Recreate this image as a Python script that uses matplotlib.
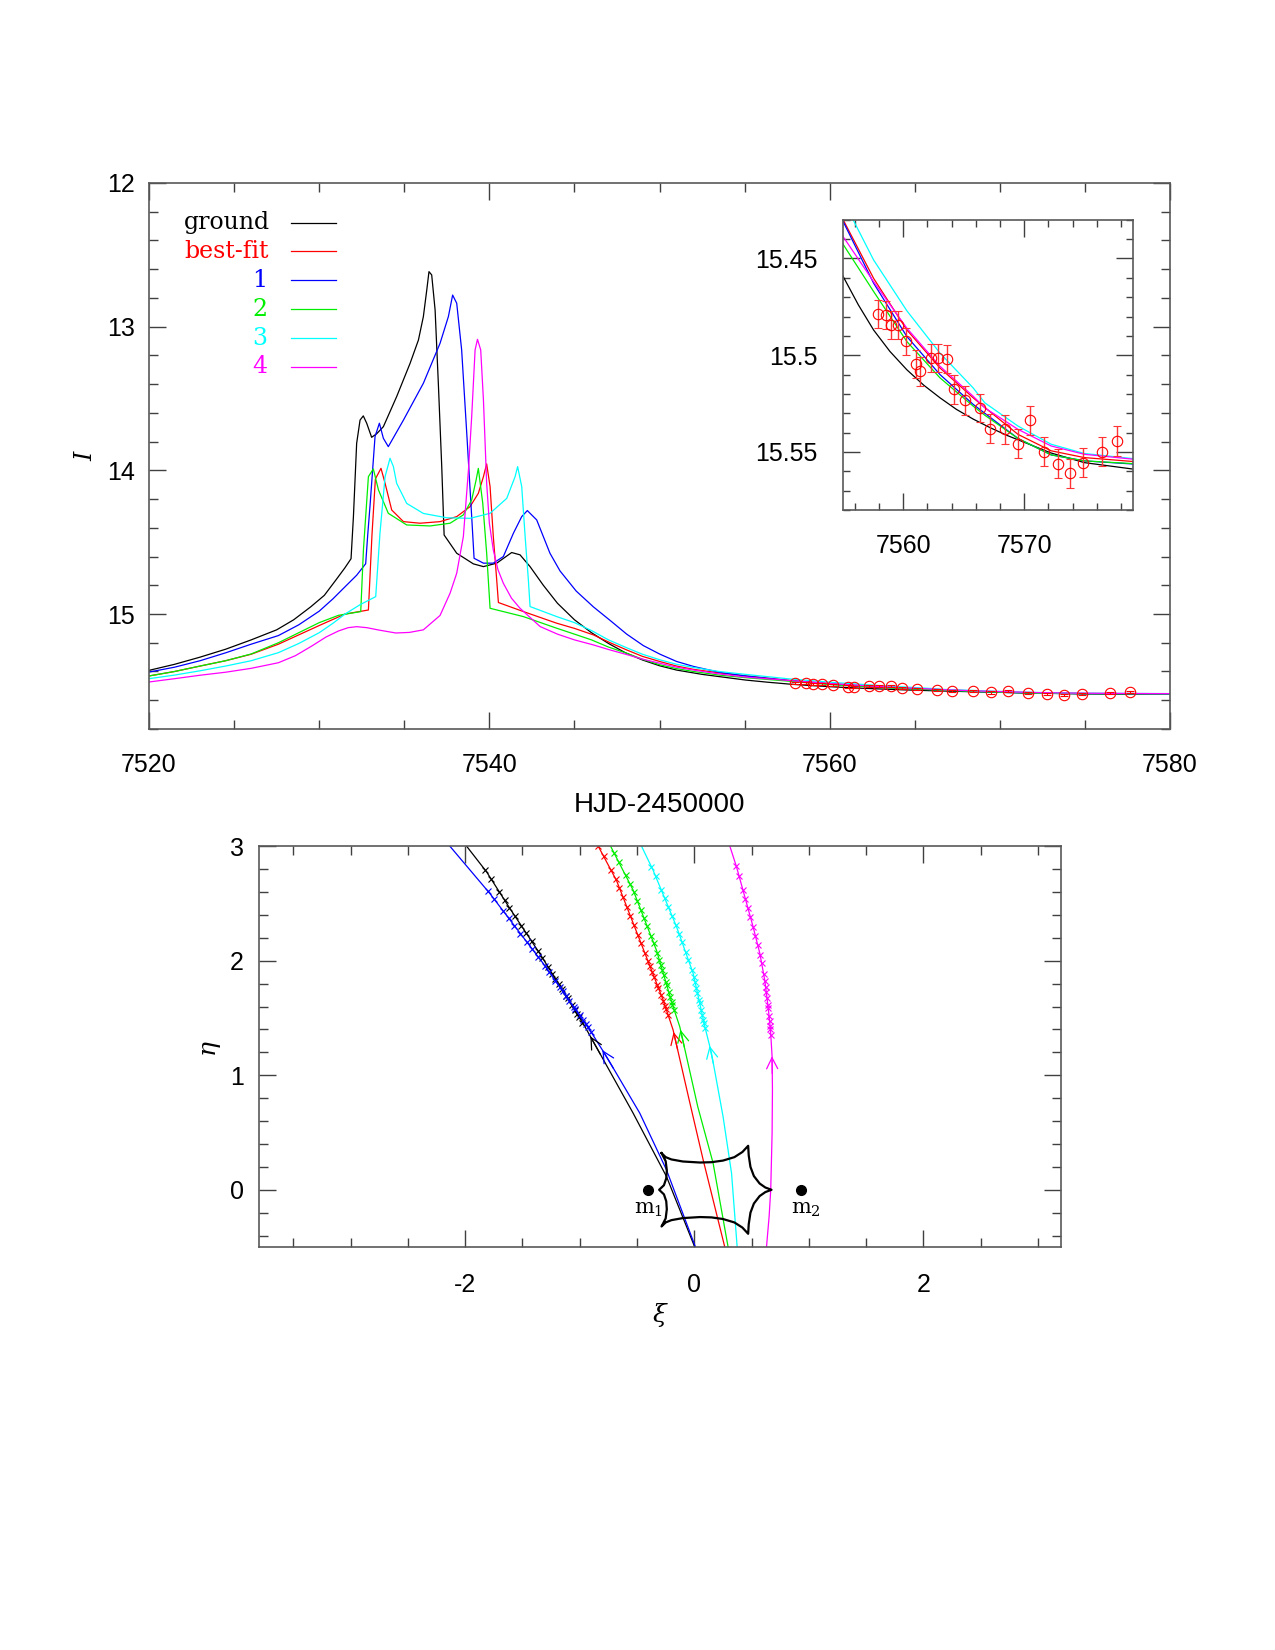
import numpy as np
import matplotlib.pyplot as plt
from matplotlib.ticker import MultipleLocator, FormatStrFormatter

plt.rcParams['font.family'] = ['Liberation Sans', 'DejaVu Sans']
plt.rcParams['axes.unicode_minus'] = False
plt.rcParams['mathtext.fontset'] = 'dejavuserif'

# ---------------- light curves (HJD-2450000, I mag) ----------------
black_t = [7520.0, 7521.5, 7523.0, 7524.5, 7526.0, 7527.5, 7528.5, 7529.5, 7530.3, 7531.0,
           7531.5, 7531.87, 7532.01, 7532.2, 7532.4, 7532.59, 7532.79, 7533.08, 7533.38, 7533.77,
           7534.55, 7535.34, 7535.83, 7536.12, 7536.32, 7536.45, 7536.61, 7536.81, 7537.0, 7537.2,
           7537.34, 7538.08, 7539.06, 7539.65, 7540.43, 7541.31, 7541.8, 7542.39, 7543.17, 7544.0,
           7545.0, 7546.0, 7547.0, 7548.0, 7549.0, 7550.0, 7551.0, 7552.5, 7555.05, 7556.3,
           7557.56, 7558.9, 7560.3, 7561.7, 7563.04, 7564.4, 7565.78, 7567.2, 7568.6, 7570.0,
           7572.2, 7574.96, 7578.93, 7580.0]
black_m = [15.392, 15.35, 15.30, 15.245, 15.18, 15.11, 15.04, 14.95, 14.87, 14.76,
           14.68, 14.615, 14.322, 13.812, 13.65, 13.621, 13.672, 13.77, 13.745, 13.696,
           13.487, 13.255, 13.093, 12.93, 12.745, 12.617, 12.64, 12.884, 13.394, 13.974,
           14.45, 14.577, 14.651, 14.67, 14.646, 14.572, 14.588, 14.67, 14.80, 14.925,
           15.04, 15.13, 15.205, 15.27, 15.32, 15.36, 15.39, 15.42, 15.4594, 15.474,
           15.487, 15.498, 15.5075, 15.5155, 15.522, 15.528, 15.533, 15.5375, 15.5415, 15.545,
           15.5505, 15.5555, 15.5588, 15.5592]

red_t = [7520.0, 7521.5, 7523.0, 7524.5, 7526.0, 7527.6, 7528.8, 7530.0, 7531.52, 7532.89,
         7533.1, 7533.3, 7533.63, 7533.87, 7534.26, 7534.95, 7535.93, 7537.1, 7538.08, 7538.86,
         7539.35, 7539.65, 7539.84, 7540.04, 7540.23, 7540.43, 7540.53, 7542.0, 7543.96, 7545.0,
         7546.11, 7547.1, 7548.07, 7549.0, 7550.03, 7551.0, 7552.0, 7553.5, 7555.05, 7557.56,
         7560.3, 7563.04, 7565.78, 7566.74, 7569.48, 7572.22, 7574.96, 7578.93, 7580.0]
red_m = [15.431, 15.4, 15.362, 15.325, 15.28, 15.21, 15.145, 15.08, 15.0, 14.972,
         14.45, 14.06, 13.986, 14.09, 14.276, 14.357, 14.368, 14.357, 14.322, 14.253,
         14.16, 14.044, 13.955, 14.113, 14.46, 14.762, 14.92, 14.983, 15.064, 15.1,
         15.145, 15.2, 15.25, 15.295, 15.331, 15.362, 15.385, 15.41, 15.4301, 15.4603,
         15.4869, 15.5066, 15.522, 15.527, 15.5409, 15.5494, 15.5529, 15.5549, 15.5551]

blue_t = [7520.0, 7521.5, 7523.0, 7524.5, 7526.0, 7527.6, 7528.8, 7530.0, 7530.8, 7531.52,
          7532.2, 7532.73, 7532.85, 7532.99, 7533.28, 7533.535, 7533.77, 7534.06, 7534.95, 7536.12,
          7537.1, 7537.59, 7537.84, 7538.08, 7538.37, 7538.67, 7538.96, 7539.1, 7539.65, 7540.23,
          7540.82, 7541.41, 7541.9, 7542.23, 7542.78, 7543.56, 7544.15, 7545.1, 7546.11, 7547.1,
          7548.07, 7549.05, 7550.03, 7551.0, 7552.0, 7553.5, 7555.05, 7557.56, 7560.3, 7563.04,
          7565.78, 7566.74, 7569.48, 7572.22, 7574.96, 7578.93, 7580.0]
blue_m = [15.404, 15.37, 15.325, 15.27, 15.21, 15.15, 15.075, 14.98, 14.895, 14.81,
          14.73, 14.65, 14.45, 14.24, 13.765, 13.672, 13.777, 13.835, 13.65, 13.394,
          13.116, 12.93, 12.78, 12.837, 13.162, 13.742, 14.322, 14.612, 14.646, 14.646,
          14.6, 14.438, 14.322, 14.28, 14.345, 14.577, 14.70, 14.84, 14.95, 15.045,
          15.14, 15.22, 15.28, 15.33, 15.365, 15.405, 15.431, 15.4628, 15.4903, 15.51,
          15.5254, 15.53, 15.543, 15.5515, 15.5546, 15.5562, 15.5565]

green_t = [7520.0, 7521.5, 7523.0, 7524.5, 7526.0, 7527.6, 7528.8, 7530.0, 7531.13, 7532.44,
           7532.6, 7532.89, 7533.18, 7533.48, 7534.06, 7535.14, 7536.51, 7537.69, 7538.47, 7538.96,
           7539.22, 7539.35, 7539.61, 7539.84, 7540.04, 7542.0, 7543.96, 7545.0, 7546.0, 7547.0,
           7548.07, 7549.0, 7550.03, 7551.0, 7552.0, 7553.5, 7555.05, 7557.56, 7560.3, 7563.04,
           7565.78, 7566.74, 7569.48, 7572.22, 7574.96, 7578.93, 7580.0]
green_m = [15.431, 15.4, 15.362, 15.325, 15.278, 15.2, 15.13, 15.06, 15.009, 14.983,
           14.55, 14.044, 13.99, 14.136, 14.299, 14.38, 14.387, 14.368, 14.31, 14.206,
           14.067, 13.986, 14.229, 14.577, 14.96, 15.018, 15.099, 15.14, 15.18, 15.23,
           15.273, 15.315, 15.354, 15.38, 15.40, 15.425, 15.4428, 15.4671, 15.4929, 15.5117,
           15.5263, 15.531, 15.543, 15.5515, 15.5546, 15.556, 15.5562]

cyan_t = [7520.0, 7521.5, 7523.0, 7524.5, 7526.0, 7527.6, 7528.8, 7530.0, 7530.8, 7531.52,
          7532.4, 7533.32, 7533.57, 7533.87, 7534.16, 7534.36, 7534.55, 7535.14, 7536.12, 7537.49,
          7538.86, 7540.04, 7541.02, 7541.51, 7541.66, 7541.9, 7542.1, 7542.29, 7542.39, 7543.96,
          7545.0, 7546.0, 7547.0, 7548.07, 7549.0, 7550.03, 7551.0, 7552.0, 7553.5, 7555.05,
          7555.87, 7557.56, 7560.3, 7563.04, 7565.78, 7566.74, 7569.48, 7572.22, 7574.96, 7578.93, 7580.0]
cyan_m = [15.45, 15.425, 15.395, 15.362, 15.325, 15.269, 15.205, 15.13, 15.065, 15.0,
          14.935, 14.879, 14.438, 14.044, 13.916, 13.974, 14.09, 14.23, 14.3, 14.33,
          14.334, 14.299, 14.195, 14.044, 13.974, 14.113, 14.46, 14.762, 14.948, 15.018,
          15.06, 15.115, 15.18, 15.235, 15.28, 15.319, 15.35, 15.372, 15.40, 15.42,
          15.4301, 15.4508, 15.477, 15.4989, 15.5169, 15.5246, 15.5366, 15.546, 15.5508, 15.5534, 15.5537]

magenta_t = [7520.0, 7521.5, 7523.0, 7524.5, 7526.0, 7527.6, 7528.6, 7529.56, 7530.4, 7531.13,
             7531.7, 7532.2, 7532.8, 7533.48, 7534.5, 7535.3, 7536.12, 7537.1, 7537.69, 7538.08,
             7538.47, 7538.77, 7538.96, 7539.16, 7539.3, 7539.49, 7539.65, 7539.84, 7540.0, 7540.23,
             7540.5, 7540.82, 7541.3, 7541.8, 7542.98, 7544.0, 7545.0, 7546.11, 7547.0, 7548.07,
             7549.0, 7550.03, 7551.0, 7552.0, 7553.5, 7555.05, 7557.56, 7560.3, 7563.04, 7565.78,
             7566.74, 7569.48, 7572.22, 7574.96, 7578.93, 7580.0]
magenta_m = [15.473, 15.45, 15.426, 15.405, 15.378, 15.339, 15.29, 15.223, 15.16, 15.118,
             15.095, 15.088, 15.095, 15.111, 15.132, 15.128, 15.11, 15.01, 14.855, 14.716,
             14.461, 13.997, 13.626, 13.162, 13.088, 13.162, 13.51, 14.09, 14.37, 14.554,
             14.69, 14.786, 14.89, 14.96, 15.087, 15.14, 15.18, 15.215, 15.247, 15.282,
             15.314, 15.343, 15.37, 15.39, 15.417, 15.4388, 15.462, 15.486, 15.5057, 15.5212,
             15.5272, 15.5383, 15.5469, 15.5512, 15.5537, 15.554]

# observed points
obs_t = [7557.95, 7558.62, 7559.0, 7559.55, 7560.22, 7561.07, 7561.40, 7562.30, 7562.91, 7563.59,
         7564.22, 7565.10, 7566.33, 7567.2, 7568.44, 7569.48, 7570.49, 7571.67, 7572.77, 7573.78,
         7574.82, 7576.46, 7577.64]
obs_m = [15.4786, 15.4793, 15.4843, 15.4843, 15.4929, 15.5045, 15.5083, 15.5014, 15.5014, 15.5018,
         15.5177, 15.5234, 15.5272, 15.538, 15.5383, 15.5457, 15.5335, 15.5498, 15.556, 15.561,
         15.5556, 15.5498, 15.5443]
obs_e = [0.0071, 0.0071, 0.0073, 0.0073, 0.0072, 0.0073, 0.0075, 0.0072, 0.0074, 0.0073,
         0.0074, 0.0075, 0.0074, 0.0075, 0.0075, 0.0075, 0.0075, 0.0076, 0.0075, 0.0076,
         0.0075, 0.0077, 0.0076]

# ---------------- source trajectories (xi, eta), eta increasing ----------------
black_xi = [0.004, -0.243, -0.534, -0.825, -0.955, -1.115, -1.35, -1.61, -1.813, -1.988]
black_eta = [-0.5, 0.116, 0.669, 1.192, 1.424, 1.685, 2.064, 2.456, 2.775, 3.0]
blue_xi = [0.01, -0.243, -0.476, -0.766, -0.912, -1.319, -1.785, -2.134]
blue_eta = [-0.5, 0.174, 0.669, 1.162, 1.395, 1.976, 2.587, 3.0]
red_xi = [0.266, 0.077, -0.045, -0.185, -0.272, -0.476, -0.679, -0.839]
red_eta = [-0.5, 0.262, 0.785, 1.395, 1.656, 2.18, 2.70, 3.0]
green_xi = [0.295, 0.164, 0.03, -0.127, -0.185, -0.33, -0.534, -0.731]
green_eta = [-0.5, 0.233, 0.726, 1.424, 1.598, 2.09, 2.616, 3.0]
cyan_xi = [0.374, 0.325, 0.251, 0.15, 0.092, -0.01, -0.155, -0.36, -0.461]
cyan_eta = [-0.5, 0.145, 0.639, 1.192, 1.424, 1.889, 2.296, 2.79, 3.0]
magenta_xi = [0.63, 0.653, 0.667, 0.679, 0.682, 0.679, 0.665, 0.644, 0.615, 0.572, 0.513, 0.441, 0.368, 0.31]
magenta_eta = [-0.5, -0.233, 0.0, 0.494, 0.872, 1.162, 1.395, 1.598, 1.83, 2.063, 2.296, 2.557, 2.82, 3.0]

# eta of the first / last observed epoch on each track, and arrow tip eta
mark_eta = {'k': (1.46, 2.79), 'b': (1.38, 2.61), 'r': (1.53, 3.0),
            'g': (1.57, 2.94), 'c': (1.41, 2.82), 'm': (1.35, 2.83)}
arrow_eta = {'k': 1.36, 'b': 1.24, 'r': 1.40, 'g': 1.42, 'c': 1.28, 'm': 1.19}

# caustic and lens positions
caus_xi = [-0.286, -0.25, -0.2, -0.1, 0.05, 0.15, 0.25, 0.35, 0.42, 0.47,
           0.475, 0.49, 0.52, 0.57, 0.62, 0.674, 0.62, 0.57, 0.52, 0.49, 0.475, 0.47,
           0.42, 0.35, 0.25, 0.15, 0.05, -0.1, -0.2, -0.25, -0.286,
           -0.25, -0.24, -0.245, -0.265, -0.307, -0.265, -0.245, -0.24, -0.25, -0.286]
caus_eta = [0.32, 0.285, 0.265, 0.247, 0.238, 0.241, 0.255, 0.285, 0.33, 0.384,
            0.30, 0.2, 0.12, 0.055, 0.02, 0.0, -0.02, -0.055, -0.12, -0.2, -0.30, -0.384,
            -0.33, -0.285, -0.255, -0.241, -0.238, -0.247, -0.265, -0.285, -0.32,
            -0.25, -0.17, -0.1, -0.04, 0.0, 0.04, 0.1, 0.17, 0.25, 0.32]
lens_xi = [-0.403, 0.927]
lens_eta = [0.0, 0.0]
lens_names = ['m$_1$', 'm$_2$']
lens_label_xi = [-0.403, 0.97]

curves = [('k', black_t, black_m, black_xi, black_eta),
          ('r', red_t, red_m, red_xi, red_eta),
          ('b', blue_t, blue_m, blue_xi, blue_eta),
          ('g', green_t, green_m, green_xi, green_eta),
          ('c', cyan_t, cyan_m, cyan_xi, cyan_eta),
          ('m', magenta_t, magenta_m, magenta_xi, magenta_eta)]
cmap = {'k': 'black', 'r': '#ff0000', 'b': '#0000ff', 'g': '#00ee00', 'c': '#00ffff', 'm': '#ff00ff'}
legend_names = ['ground', 'best-fit', '1', '2', '3', '4']
legend_keys = ['k', 'r', 'b', 'g', 'c', 'm']


def frame(ax, major, minor):
    ax.tick_params(which='both', direction='in', top=True, right=True, width=1.0, color='0.25',
                   labelsize=18)
    ax.tick_params(which='major', length=major)
    ax.tick_params(which='minor', length=minor)
    for s in ax.spines.values():
        s.set_linewidth(1.2)
        s.set_color('0.35')


fig = plt.figure(figsize=(12.75, 16.5), dpi=100)

# ---------------- main light curve ----------------
ax = fig.add_axes([0.1169, 0.5582, 0.8008, 0.3309])
for key, t, m, _, _ in curves:
    ax.plot(t, m, color=cmap[key], lw=0.9)
ax.errorbar(obs_t, obs_m, yerr=obs_e, fmt='o', mfc='none', mec='red', ms=7.5, mew=0.8,
            ecolor='red', elinewidth=0.8, capsize=3)
ax.set_xlim(7520, 7580)
ax.set_ylim(15.8, 12)
ax.xaxis.set_major_locator(MultipleLocator(20))
ax.xaxis.set_minor_locator(MultipleLocator(5))
ax.yaxis.set_major_locator(MultipleLocator(1))
ax.yaxis.set_minor_locator(MultipleLocator(0.2))
ax.yaxis.set_major_formatter(FormatStrFormatter('%g'))
frame(ax, 12, 6.5)
ax.tick_params(axis='x', pad=17)
ax.tick_params(axis='y', pad=10)
ax.set_xlabel('HJD-2450000', fontsize=20)
ax.xaxis.set_label_coords(0.5, -0.139)
ax.xaxis.label.set_verticalalignment('center')
ax.set_ylabel('I', fontsize=17, family='DejaVu Serif', style='italic')
ax.yaxis.set_label_coords(-0.062, 0.5)
ax.yaxis.label.set_verticalalignment('center')

# legend drawn as text + short lines
leg_y = [0.927, 0.875, 0.822, 0.769, 0.716, 0.663]
for name, key, y in zip(legend_names, legend_keys, leg_y):
    if len(name) > 1:
        ax.text(0.0343, y, name, transform=ax.transAxes, color=cmap[key], fontsize=17,
                family='DejaVu Serif', ha='left', va='center')
    else:
        ax.text(0.1087, y, name, transform=ax.transAxes, color=cmap[key], fontsize=17,
                family='DejaVu Serif', ha='center', va='center')
    ax.plot([0.139, 0.183], [y, y], transform=ax.transAxes, color=cmap[key], lw=0.9)

# ---------------- inset ----------------
axi = fig.add_axes([0.6609, 0.6909, 0.2279, 0.1759])
for key, t, m, _, _ in curves:
    axi.plot(t, m, color=cmap[key], lw=0.9)
axi.errorbar(obs_t, obs_m, yerr=obs_e, fmt='o', mfc='none', mec='red', ms=7.5, mew=0.8,
             ecolor='#ff3333', elinewidth=1.0, capsize=3)
axi.set_xlim(7555, 7579)
axi.set_ylim(15.58, 15.43)
axi.xaxis.set_major_locator(MultipleLocator(10))
axi.xaxis.set_minor_locator(MultipleLocator(2))
axi.yaxis.set_major_locator(MultipleLocator(0.05))
axi.yaxis.set_minor_locator(MultipleLocator(0.01))
axi.yaxis.set_major_formatter(FormatStrFormatter('%g'))
frame(axi, 12, 4.8)
axi.tick_params(axis='x', pad=17)
axi.tick_params(axis='y', pad=18)

# ---------------- source plane ----------------
axb = fig.add_axes([0.2031, 0.2442, 0.629, 0.2430])
obs = np.array(obs_t)
for key, _, _, xi, eta in curves:
    c = cmap[key]
    axb.plot(xi, eta, color=c, lw=0.9)
    e0, e1 = mark_eta[key]
    me = e0 + (obs - obs[0]) / (obs[-1] - obs[0]) * (e1 - e0)
    mx = np.interp(me, eta, xi)
    axb.plot(mx, me, 'x', color=c, ms=5, mew=0.8)
    tip = arrow_eta[key]
    axb.annotate('', xy=(np.interp(tip, eta, xi), tip),
                 xytext=(np.interp(tip - 0.2, eta, xi), tip - 0.2),
                 arrowprops=dict(arrowstyle='->', color=c, lw=0.9, mutation_scale=20))
axb.plot(caus_xi, caus_eta, color='black', lw=1.6)
axb.plot(lens_xi, lens_eta, 'o', color='black', ms=7)
for name, lx in zip(lens_names, lens_label_xi):
    axb.text(lx, -0.175, name, ha='center', va='center', fontsize=15, family='DejaVu Serif')
axb.set_xlim(-3.8, 3.2)
axb.set_ylim(-0.5, 3)
axb.xaxis.set_major_locator(MultipleLocator(2))
axb.xaxis.set_minor_locator(MultipleLocator(0.5))
axb.yaxis.set_major_locator(MultipleLocator(1))
axb.yaxis.set_minor_locator(MultipleLocator(0.2))
frame(axb, 12, 6.5)
axb.tick_params(axis='x', pad=19)
axb.tick_params(axis='y', pad=11)
axb.set_xlabel('ξ', fontsize=18, family='DejaVu Serif', style='italic')
axb.xaxis.set_label_coords(0.5, -0.17)
axb.xaxis.label.set_verticalalignment('center')
axb.set_ylabel('η', fontsize=18, family='DejaVu Serif', style='italic')
axb.yaxis.set_label_coords(-0.065, 0.5)
axb.yaxis.label.set_verticalalignment('center')

fig.savefig('out.png', dpi=100)
